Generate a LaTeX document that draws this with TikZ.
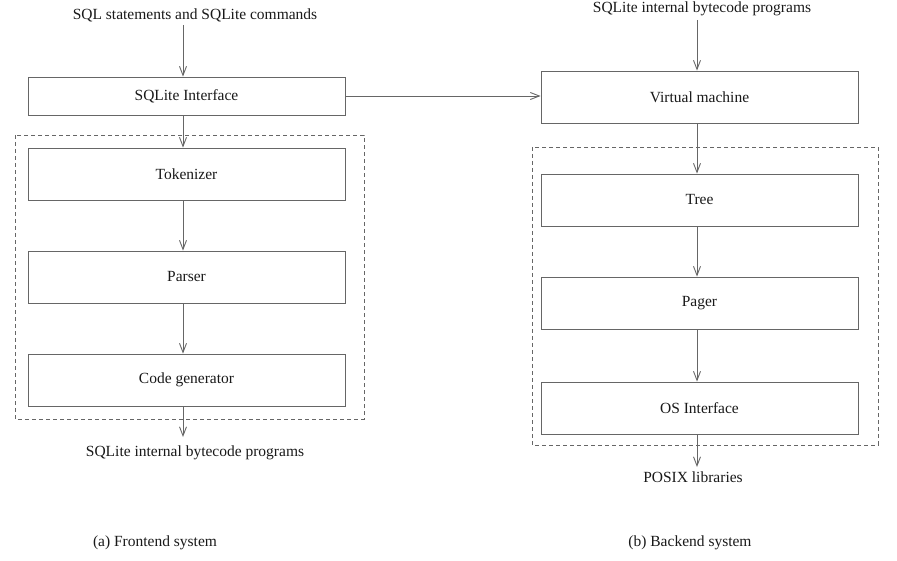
\documentclass[tikz,border=0pt]{standalone}
\usepackage{fontspec}
\setmainfont{Liberation Serif}[Scale=1.033]
\usetikzlibrary{arrows.meta}
\begin{document}
\begin{tikzpicture}[x=1pt,y=-1pt,
  every node/.style={font=\fontsize{15}{18}\selectfont, text=black!90},
  blk/.style={draw=black!60, line width=0.9pt, minimum width=317pt, minimum height=52pt, inner sep=0pt},
  grp/.style={draw=black!60, line width=0.9pt, dash pattern=on 4pt off 3pt},
  conn/.style={draw=black!60, line width=0.9pt, -{Straight Barb[length=9pt,width=7pt]}},
  lbl/.style={inner sep=0pt, anchor=center}]
\useasboundingbox (0,0) rectangle (897,561);
% dashed groups
\draw[grp] (15,135) rectangle (364,419);
\draw[grp] (532,147) rectangle (878,445);
% left column
\node[lbl] (t1) at (195,15) {SQL statements and SQLite commands};
\node[blk, minimum height=38pt] (si) at (186.5,96) {SQLite Interface};
\node[blk] (tok) at (186.5,174) {Tokenizer};
\node[blk] (par) at (186.5,277) {Parser};
\node[blk] (cg) at (186.5,380) {Code generator};
\node[lbl] (b1) at (195,453) {SQLite internal bytecode programs};
\node[lbl] (ca) at (155,543) {(a) Frontend system};
\coordinate (t1s) at (183,25);
\coordinate (b1e) at (183,437);
% right column
\node[lbl] (t2) at (702,9) {SQLite internal bytecode programs};
\node[blk] (vm) at (699.5,97) {Virtual machine};
\node[blk] (tree) at (699.5,200) {Tree};
\node[blk] (pg) at (699.5,303) {Pager};
\node[blk] (os) at (699.5,408) {OS Interface};
\node[lbl] (b2) at (693,477) {POSIX libraries};
\node[lbl] (cb) at (690,543) {(b) Backend system};
\coordinate (t2s) at (697,20);
\coordinate (b2e) at (697,467);
% connectors
\draw[conn] (t1s) -- (t1s |- si.north);
\draw[conn] (si.south -| t1s) -- (tok.north -| t1s);
\draw[conn] (tok.south -| t1s) -- (par.north -| t1s);
\draw[conn] (par.south -| t1s) -- (cg.north -| t1s);
\draw[conn] (cg.south -| t1s) -- (b1e);
\draw[conn] (si.east) -- (vm.west |- si.east);
\draw[conn] (t2s) -- (t2s |- vm.north);
\draw[conn] (vm.south -| t2s) -- (tree.north -| t2s);
\draw[conn] (tree.south -| t2s) -- (pg.north -| t2s);
\draw[conn] (pg.south -| t2s) -- (os.north -| t2s);
\draw[conn] (os.south -| t2s) -- (b2e);
\end{tikzpicture}
\end{document}
